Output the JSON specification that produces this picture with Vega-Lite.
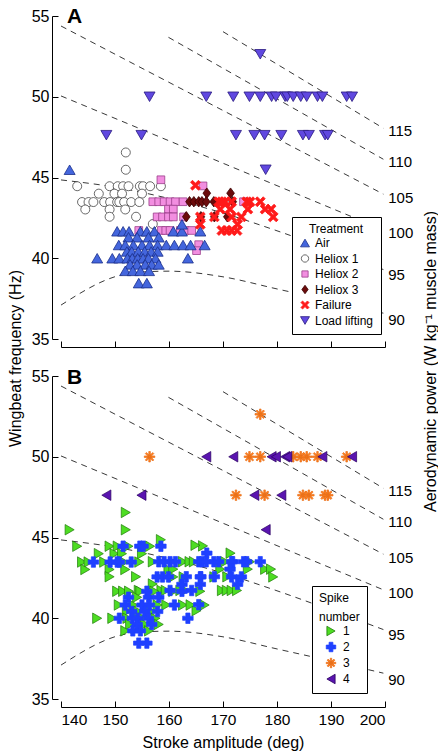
{
  "$schema": "https://vega.github.io/schema/vega-lite/v6.json",
  "autosize": {"type": "pad"},
  "padding": {"left": 7, "top": 6, "right": 0, "bottom": 0},
  "background": "white",
  "bounds": "flush",
  "datasets": {
    "pts": [
      {"x":152.0,"y":46.55,"t":"Heliox 1","s":1},{"x":152.0,"y":45.48,"t":"Heliox 1","s":1},
      {"x":143.0,"y":44.46,"t":"Heliox 1","s":1},{"x":149.0,"y":44.46,"t":"Heliox 1","s":1},{"x":150.5,"y":44.46,"t":"Heliox 1","s":1},{"x":151.5,"y":44.46,"t":"Heliox 1","s":2},{"x":152.5,"y":44.46,"t":"Heliox 1","s":1},{"x":154.6,"y":44.46,"t":"Heliox 1","s":2},{"x":155.2,"y":44.46,"t":"Heliox 1","s":2},{"x":156.5,"y":44.46,"t":"Heliox 1","s":1},{"x":158.5,"y":44.46,"t":"Heliox 1","s":2},
      {"x":147.0,"y":44.0,"t":"Heliox 1","s":1},{"x":149.9,"y":44.0,"t":"Heliox 1","s":1},{"x":151.3,"y":44.0,"t":"Heliox 1","s":1},{"x":155.0,"y":44.0,"t":"Heliox 1","s":1},
      {"x":143.9,"y":43.48,"t":"Heliox 1","s":1},{"x":145.1,"y":43.48,"t":"Heliox 1","s":1},{"x":146.0,"y":43.48,"t":"Heliox 1","s":2},{"x":148.0,"y":43.48,"t":"Heliox 1","s":1},{"x":149.1,"y":43.48,"t":"Heliox 1","s":2},{"x":150.4,"y":43.48,"t":"Heliox 1","s":2},{"x":150.8,"y":43.48,"t":"Heliox 1","s":2},{"x":151.7,"y":43.48,"t":"Heliox 1","s":1},{"x":153.0,"y":43.48,"t":"Heliox 1","s":2},{"x":154.5,"y":43.48,"t":"Heliox 1","s":1},
      {"x":144.5,"y":43.02,"t":"Heliox 1","s":1},{"x":149.0,"y":43.02,"t":"Heliox 1","s":1},{"x":151.9,"y":43.02,"t":"Heliox 1","s":1},
      {"x":149.0,"y":42.57,"t":"Heliox 1","s":1},{"x":153.9,"y":42.57,"t":"Heliox 1","s":1},{"x":157.0,"y":42.12,"t":"Heliox 1","s":1},

      {"x":158.5,"y":44.86,"t":"Heliox 2","s":1},{"x":166.3,"y":44.48,"t":"Heliox 2","s":1},
      {"x":157.0,"y":43.5,"t":"Heliox 2","s":1},{"x":158.1,"y":43.5,"t":"Heliox 2","s":2},{"x":159.1,"y":43.5,"t":"Heliox 2","s":2},{"x":160.2,"y":43.5,"t":"Heliox 2","s":2},{"x":161.2,"y":43.5,"t":"Heliox 2","s":2},{"x":162.6,"y":43.5,"t":"Heliox 2","s":1},{"x":173.8,"y":43.5,"t":"Heliox 2","s":2},
      {"x":159.9,"y":43.04,"t":"Heliox 2","s":1},{"x":160.8,"y":43.04,"t":"Heliox 2","s":1},
      {"x":157.8,"y":42.56,"t":"Heliox 2","s":2},{"x":158.8,"y":42.56,"t":"Heliox 2","s":2},{"x":159.9,"y":42.56,"t":"Heliox 2","s":2},{"x":160.8,"y":42.56,"t":"Heliox 2","s":1},{"x":162.7,"y":42.56,"t":"Heliox 2","s":1},
      {"x":154.4,"y":41.72,"t":"Heliox 2","s":1},{"x":158.6,"y":41.72,"t":"Heliox 2","s":1},{"x":159.4,"y":41.72,"t":"Heliox 2","s":1},{"x":160.2,"y":41.72,"t":"Heliox 2","s":2},{"x":162.1,"y":41.72,"t":"Heliox 2","s":1},{"x":163.0,"y":41.72,"t":"Heliox 2","s":1},{"x":164.2,"y":41.72,"t":"Heliox 2","s":2},
      {"x":165.5,"y":40.84,"t":"Heliox 2","s":2},{"x":165.1,"y":40.47,"t":"Heliox 2","s":1},

      {"x":141.6,"y":45.48,"t":"Air","s":1},
      {"x":150.4,"y":41.67,"t":"Air","s":1},{"x":151.5,"y":41.67,"t":"Air","s":1},{"x":152.6,"y":41.67,"t":"Air","s":1},{"x":154.7,"y":41.67,"t":"Air","s":1},{"x":155.9,"y":41.67,"t":"Air","s":2},{"x":157.3,"y":41.67,"t":"Air","s":1},{"x":160.8,"y":41.67,"t":"Air","s":1},{"x":162.4,"y":41.67,"t":"Air","s":2},{"x":165.8,"y":41.67,"t":"Air","s":1},
      {"x":162.4,"y":42.1,"t":"Air","s":2},
      {"x":152.5,"y":41.3,"t":"Air","s":2},{"x":154.1,"y":41.3,"t":"Air","s":1},{"x":156.2,"y":41.3,"t":"Air","s":2},{"x":158.1,"y":41.3,"t":"Air","s":2},
      {"x":150.7,"y":40.82,"t":"Air","s":1},{"x":151.9,"y":40.82,"t":"Air","s":2},{"x":153.4,"y":40.82,"t":"Air","s":1},{"x":155.0,"y":40.82,"t":"Air","s":2},{"x":156.4,"y":40.82,"t":"Air","s":2},{"x":157.9,"y":40.82,"t":"Air","s":1},{"x":159.5,"y":40.82,"t":"Air","s":1},{"x":161.0,"y":40.82,"t":"Air","s":2},{"x":162.6,"y":40.82,"t":"Air","s":1},{"x":164.0,"y":40.82,"t":"Air","s":1},{"x":166.6,"y":40.82,"t":"Air","s":1},
      {"x":152.2,"y":40.42,"t":"Air","s":1},{"x":153.1,"y":40.42,"t":"Air","s":2},{"x":154.3,"y":40.42,"t":"Air","s":1},{"x":155.5,"y":40.42,"t":"Air","s":2},{"x":156.7,"y":40.42,"t":"Air","s":1},{"x":157.9,"y":40.42,"t":"Air","s":2},
      {"x":146.7,"y":40.0,"t":"Air","s":1},{"x":149.5,"y":40.0,"t":"Air","s":1},{"x":150.8,"y":40.0,"t":"Air","s":2},{"x":152.3,"y":40.0,"t":"Air","s":1},{"x":153.2,"y":40.0,"t":"Air","s":2},{"x":154.2,"y":40.0,"t":"Air","s":2},{"x":155.2,"y":40.0,"t":"Air","s":1},{"x":156.2,"y":40.0,"t":"Air","s":2},{"x":157.5,"y":40.0,"t":"Air","s":1},{"x":163.5,"y":40.0,"t":"Air","s":2},
      {"x":152.8,"y":39.62,"t":"Air","s":1},{"x":154.1,"y":39.62,"t":"Air","s":2},{"x":155.6,"y":39.62,"t":"Air","s":1},{"x":156.8,"y":39.62,"t":"Air","s":2},{"x":158.1,"y":39.62,"t":"Air","s":1},
      {"x":151.9,"y":39.22,"t":"Air","s":1},{"x":153.3,"y":39.22,"t":"Air","s":2},{"x":154.7,"y":39.22,"t":"Air","s":2},{"x":156.3,"y":39.22,"t":"Air","s":1},
      {"x":154.4,"y":38.46,"t":"Air","s":2},{"x":155.9,"y":38.46,"t":"Air","s":2},

      {"x":167.0,"y":44.03,"t":"Heliox 3","s":2},{"x":171.4,"y":44.03,"t":"Heliox 3","s":1},
      {"x":163.8,"y":43.5,"t":"Heliox 3","s":1},{"x":164.6,"y":43.5,"t":"Heliox 3","s":1},{"x":165.5,"y":43.5,"t":"Heliox 3","s":2},{"x":166.1,"y":43.5,"t":"Heliox 3","s":2},{"x":166.9,"y":43.5,"t":"Heliox 3","s":2},{"x":168.3,"y":43.5,"t":"Heliox 3","s":2},{"x":171.8,"y":43.5,"t":"Heliox 3","s":2},
      {"x":163.2,"y":42.57,"t":"Heliox 3","s":2},{"x":165.9,"y":42.57,"t":"Heliox 3","s":2},{"x":168.4,"y":42.57,"t":"Heliox 3","s":2},{"x":170.8,"y":42.57,"t":"Heliox 3","s":1},

      {"x":164.9,"y":44.52,"t":"Failure","s":1},
      {"x":169.2,"y":43.5,"t":"Failure","s":2},{"x":169.8,"y":43.5,"t":"Failure","s":1},{"x":170.4,"y":43.5,"t":"Failure","s":1},{"x":171.6,"y":43.5,"t":"Failure","s":2},{"x":174.4,"y":43.5,"t":"Failure","s":2},{"x":175.0,"y":43.5,"t":"Failure","s":1},{"x":176.9,"y":43.5,"t":"Failure","s":2},
      {"x":169.5,"y":43.04,"t":"Failure","s":1},{"x":171.3,"y":43.04,"t":"Failure","s":2},{"x":174.6,"y":43.04,"t":"Failure","s":1},{"x":177.8,"y":43.04,"t":"Failure","s":1},{"x":178.9,"y":43.04,"t":"Failure","s":1},
      {"x":165.8,"y":42.56,"t":"Failure","s":2},{"x":168.4,"y":42.56,"t":"Failure","s":1},{"x":171.6,"y":42.56,"t":"Failure","s":2},{"x":173.4,"y":42.56,"t":"Failure","s":2},{"x":179.3,"y":42.56,"t":"Failure","s":1},
      {"x":165.8,"y":42.1,"t":"Failure","s":2},{"x":172.7,"y":42.1,"t":"Failure","s":2},
      {"x":169.8,"y":41.72,"t":"Failure","s":1},{"x":170.7,"y":41.72,"t":"Failure","s":1},{"x":171.6,"y":41.72,"t":"Failure","s":1},{"x":172.6,"y":41.72,"t":"Failure","s":1},

      {"x":176.9,"y":52.63,"t":"Load lifting","s":3},
      {"x":156.4,"y":50.0,"t":"Load lifting","s":3},{"x":166.9,"y":50.0,"t":"Load lifting","s":4},{"x":171.9,"y":50.0,"t":"Load lifting","s":4},{"x":174.9,"y":50.0,"t":"Load lifting","s":3},{"x":176.9,"y":50.0,"t":"Load lifting","s":3},{"x":179.0,"y":50.0,"t":"Load lifting","s":4},{"x":179.8,"y":50.0,"t":"Load lifting","s":4},{"x":181.5,"y":50.0,"t":"Load lifting","s":4},{"x":181.9,"y":50.0,"t":"Load lifting","s":4},{"x":183.0,"y":50.0,"t":"Load lifting","s":3},{"x":184.4,"y":50.0,"t":"Load lifting","s":3},{"x":185.5,"y":50.0,"t":"Load lifting","s":3},{"x":187.5,"y":50.0,"t":"Load lifting","s":3},{"x":188.4,"y":50.0,"t":"Load lifting","s":4},{"x":192.9,"y":50.0,"t":"Load lifting","s":3},{"x":193.9,"y":50.0,"t":"Load lifting","s":4},
      {"x":148.4,"y":47.62,"t":"Load lifting","s":4},{"x":154.9,"y":47.62,"t":"Load lifting","s":4},{"x":172.4,"y":47.62,"t":"Load lifting","s":3},{"x":175.8,"y":47.62,"t":"Load lifting","s":4},{"x":177.7,"y":47.62,"t":"Load lifting","s":3},{"x":180.8,"y":47.62,"t":"Load lifting","s":4},{"x":184.8,"y":47.62,"t":"Load lifting","s":3},{"x":185.9,"y":47.62,"t":"Load lifting","s":3},{"x":188.9,"y":47.62,"t":"Load lifting","s":3},{"x":189.4,"y":47.62,"t":"Load lifting","s":3},
      {"x":177.9,"y":45.48,"t":"Load lifting","s":4}
    ],
    "iso": [
      {"x":170.0,"y":54.03,"lvl":"115"},{"x":199.7,"y":48.05,"lvl":"115"},
      {"x":159.9,"y":53.68,"lvl":"110"},{"x":199.7,"y":46.13,"lvl":"110"},
      {"x":140.0,"y":54.38,"lvl":"105"},{"x":199.7,"y":43.97,"lvl":"105"},
      {"x":140.0,"y":50.05,"lvl":"100"},{"x":199.7,"y":41.76,"lvl":"100"},
      {"x":140.0,"y":44.85,"lvl":"95"},{"x":150.0,"y":44.4,"lvl":"95"},{"x":160.0,"y":43.7,"lvl":"95"},{"x":170.0,"y":42.8,"lvl":"95"},{"x":180.0,"y":41.7,"lvl":"95"},{"x":190.0,"y":40.5,"lvl":"95"},{"x":199.7,"y":39.3,"lvl":"95"},
      {"x":140.0,"y":37.1,"lvl":"90"},{"x":151.0,"y":38.95,"lvl":"90"},{"x":155.0,"y":39.15,"lvl":"90"},{"x":160.0,"y":39.2,"lvl":"90"},{"x":170.0,"y":38.85,"lvl":"90"},{"x":180.0,"y":38.1,"lvl":"90"},{"x":190.0,"y":37.35,"lvl":"90"},{"x":199.7,"y":36.6,"lvl":"90"}
    ],
    "lab": [
      {"x":200.6,"y":47.89,"t":"115"},{"x":200.6,"y":45.93,"t":"110"},{"x":200.6,"y":43.76,"t":"105"},
      {"x":200.6,"y":41.56,"t":"100"},{"x":200.6,"y":38.98,"t":"95"},{"x":200.6,"y":36.15,"t":"90"}
    ],
    "panelA": [{"x":141.1,"y":54.55,"t":"A"}],
    "panelB": [{"x":141.1,"y":54.5,"t":"B"}]
  },
  "vconcat": [
    {
      "width": 324, "height": 323,
      "encoding": {
        "x": {"field": "x", "type": "quantitative", "scale": {"domain": [140, 200], "nice": false, "zero": false},
              "axis": {"offset": 8, "values": [140,150,160,170,180,190,200], "labels": false, "title": null}},
        "y": {"field": "y", "type": "quantitative", "scale": {"domain": [35, 55], "nice": false, "zero": false},
              "axis": {"offset": 9, "values": [35,40,45,50,55], "title": null, "labelPadding": 9}}
      },
      "layer": [
        {"data": {"name": "iso"}, "mark": {"type": "line", "strokeDash": [6,5], "strokeWidth": 0.9, "color": "#222222", "interpolate": "monotone"},
         "encoding": {"detail": {"field": "lvl", "type": "nominal"}}},
        {"data": {"name": "lab"}, "mark": {"type": "text", "align": "left", "baseline": "middle", "fontSize": 15, "font": "Liberation Sans", "color": "black"},
         "encoding": {"text": {"field": "t", "type": "nominal"}}},
        {"data": {"name": "panelA"}, "mark": {"type": "text", "align": "left", "baseline": "alphabetic", "fontSize": 21, "fontWeight": "bold", "font": "Liberation Sans", "color": "black"},
         "encoding": {"text": {"field": "t", "type": "nominal"}}},
        {"data": {"name": "pts"}, "mark": {"type": "point", "filled": true, "opacity": 1, "strokeWidth": 0.8, "size": 121},
         "encoding": {
           "shape": {"field": "t", "type": "nominal",
             "scale": {"domain": ["Air","Heliox 1","Heliox 2","Heliox 3","Failure","Load lifting"],
                       "range": ["triangle-up","M0.82,0A0.82,0.82,0,1,1,-0.82,0A0.82,0.82,0,1,1,0.82,0Z","M-0.7,-0.7L0.7,-0.7L0.7,0.7L-0.7,0.7Z","M0,-0.95L0.7,0L0,0.95L-0.7,0Z","M-0.9,-0.54L-0.54,-0.9L0,-0.36L0.54,-0.9L0.9,-0.54L0.36,0L0.9,0.54L0.54,0.9L0,0.36L-0.54,0.9L-0.9,0.54L-0.36,0Z","triangle-down"]},
             "legend": {"title": "Treatment"}},
           "fill": {"field": "t", "type": "nominal",
             "scale": {"domain": ["Air","Heliox 1","Heliox 2","Heliox 3","Failure","Load lifting"],
                       "range": ["#4466dd","#ffffff","#f28ee0","#6b0b0b","#ff1a1a","#6048e0"]},
             "legend": {"title": "Treatment", "orient": "none", "legendX": 231, "legendY": 201, "symbolSize": 80, "labelOffset": 4, "rowPadding": 3.5, "titlePadding": 1, "padding": 7, "titleAnchor": "middle", "titleAlign": "center"}},
           "stroke": {"field": "t", "type": "nominal",
             "scale": {"domain": ["Air","Heliox 1","Heliox 2","Heliox 3","Failure","Load lifting"],
                       "range": ["#1a2f8a","#444444","#9a3f8a","#3a0000","#ff1a1a","#2a1a80"]},
             "legend": {"title": "Treatment"}}
         }}
      ]
    },
    {
      "width": 324, "height": 323,
      "layer": [
        {"data": {"name": "iso"}, "mark": {"type": "line", "strokeDash": [6,5], "strokeWidth": 0.9, "color": "#222222", "interpolate": "monotone"},
         "encoding": {
           "x": {"field": "x", "type": "quantitative", "scale": {"domain": [140, 200], "nice": false, "zero": false},
                 "axis": {"offset": 8, "values": [140,150,160,170,180,190,200], "labelPadding": 11, "labelFontSize": 15.5, "title": "Stroke amplitude (deg)", "titlePadding": 7}},
           "y": {"field": "y", "type": "quantitative", "scale": {"domain": [35, 55], "nice": false, "zero": false},
                 "axis": {"orient": "right", "domain": false, "ticks": false, "labels": false, "grid": false, "title": "Aerodynamic power (W kg⁻¹ muscle mass)", "titleAngle": -90, "titleAlign": "center", "titleBaseline": "top", "titlePadding": 37, "titleY": -15}},
           "detail": {"field": "lvl", "type": "nominal"}}},
        {"data": {"name": "panelB"}, "mark": {"type": "text", "align": "left", "baseline": "alphabetic", "fontSize": 21, "fontWeight": "bold", "font": "Liberation Sans", "color": "black"},
         "encoding": {
           "x": {"field": "x", "type": "quantitative", "scale": {"domain": [140, 200], "nice": false, "zero": false}},
           "y": {"field": "y", "type": "quantitative", "scale": {"domain": [35, 55], "nice": false, "zero": false}, "axis": null},
           "text": {"field": "t", "type": "nominal"}}},
        {"data": {"name": "lab"}, "mark": {"type": "text", "align": "left", "baseline": "middle", "fontSize": 15, "font": "Liberation Sans", "color": "black"},
         "encoding": {
           "x": {"field": "x", "type": "quantitative", "scale": {"domain": [140, 200], "nice": false, "zero": false}},
           "y": {"field": "y", "type": "quantitative", "scale": {"domain": [35, 55], "nice": false, "zero": false}, "axis": null},
           "text": {"field": "t", "type": "nominal"}}},
        {"data": {"name": "pts"}, "mark": {"type": "point", "filled": true, "opacity": 1, "strokeWidth": 0.7, "size": 110},
         "encoding": {
           "x": {"field": "x", "type": "quantitative", "scale": {"domain": [140, 200], "nice": false, "zero": false}},
           "y": {"field": "y", "type": "quantitative", "scale": {"domain": [35, 55], "nice": false, "zero": false},
                 "axis": {"orient": "left", "offset": 9, "values": [35,40,45,50,55], "labelPadding": 9, "title": "Wingbeat frequency (Hz)", "titlePadding": 8, "titleY": -18, "titleAngle": -90, "titleAlign": "center", "titleBaseline": "bottom"}},
           "order": {"field": "s", "type": "quantitative"},
           "shape": {"field": "s", "type": "nominal",
             "scale": {"domain": [1,2,3,4],
                       "range": ["triangle-right","cross","M-0.15,-1L0.15,-1L0.15,1L-0.15,1ZM-1,-0.15L1,-0.15L1,0.15L-1,0.15ZM-0.601,-0.813L0.813,0.601L0.601,0.813L-0.813,-0.601ZM-0.813,0.601L0.601,-0.813L0.813,-0.601L-0.601,0.813Z","triangle-left"]}},
           "fill": {"field": "s", "type": "nominal",
             "scale": {"domain": [1,2,3,4], "range": ["#4ddd22","#1f40ff","#ff7f20","#5a14b0"]},
             "legend": {"title": ["\u00a0\u00a0Spike", "number"], "orient": "none", "legendX": 251, "legendY": 210, "symbolSize": 90, "symbolOffset": 6, "labelOffset": 6, "rowPadding": 2, "titlePadding": 1, "padding": 7, "titleLineHeight": 19}},
           "stroke": {"field": "s", "type": "nominal",
             "scale": {"domain": [1,2,3,4], "range": ["#1f7a0a","#1f40ff","#e8701a","#2a0060"]}}
         }}
      ],
      "resolve": {"scale": {"y": "independent"}}
    }
  ],
  "spacing": 37,
  "resolve": {"scale": {"fill": "independent", "stroke": "independent", "shape": "independent", "x": "independent", "y": "independent"}},
  "config": {
    "view": {"stroke": null},
    "font": "Liberation Sans",
    "axis": {"labelFont": "Liberation Sans", "labelFontSize": 16, "labelColor": "black", "titleFont": "Liberation Sans", "titleFontSize": 16, "titleFontWeight": "normal", "titleColor": "black", "domainColor": "black", "tickColor": "black", "grid": false, "tickSize": -6, "domainWidth": 1, "tickWidth": 1},
    "legend": {"labelFont": "Liberation Sans", "labelFontSize": 12, "labelColor": "black", "titleFont": "Liberation Sans", "titleFontSize": 12, "titleFontWeight": "normal", "titleColor": "black", "strokeColor": "black", "fillColor": "white", "symbolStrokeWidth": 0.8, "cornerRadius": 0}
  }
}
